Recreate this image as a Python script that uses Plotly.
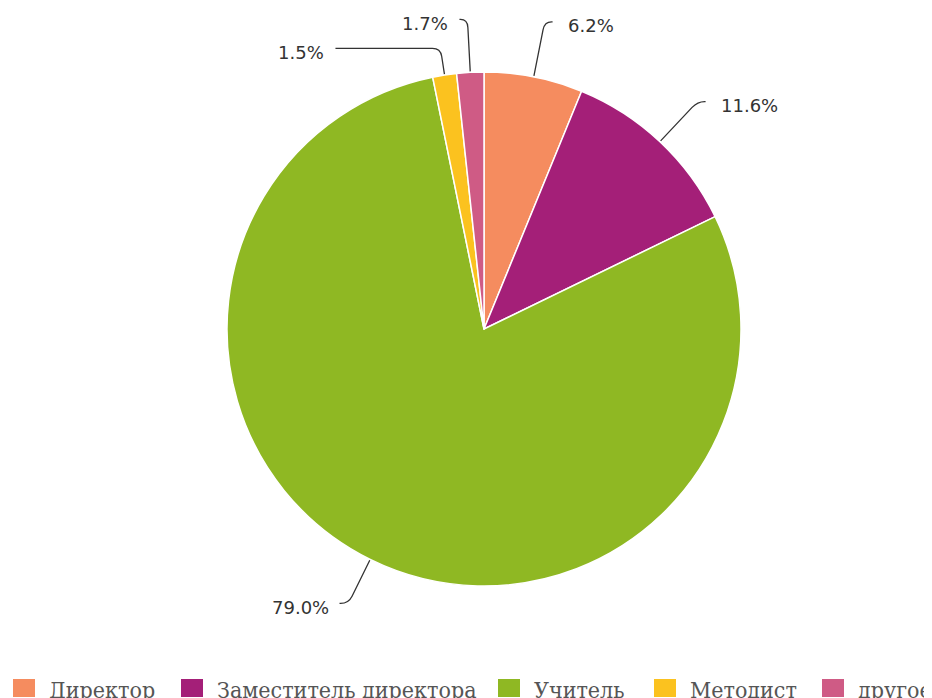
import math
import plotly.graph_objects as go

W, H = 932, 698
PAGE_OFFSET = 8  # default body margin of the page

# ----------------------------------
# Data
# ----------------------------------
labels = ["Директор", "Заместитель директора", "Учитель", "Методист", "другое"]
values = [6.2, 11.6, 79.0, 1.5, 1.7]
colors = ["#F58C5F", "#A41F78", "#8FB823", "#FBC21F", "#CF5B85"]

# pie geometry (screen pixels)
CX, CY, R = 484, 329, 257

# leader line legs per slice: radial length, horizontal length (signed)
radial_leg = [55, 54, 48, 26, 52]
horiz_leg = [8, 8, -9, -105, -8]

LABEL_FONT = dict(family="DejaVu Sans", size=18, color="#333333")
LEGEND_FONT = dict(family="DejaVu Serif Condensed, DejaVu Serif", size=23, color="#555555")


def px(x, y):
    # screen pixel -> paper coordinates
    return (x - PAGE_OFFSET) / W, 1 - (y - PAGE_OFFSET) / H


fig = go.Figure()

cx0, cy0 = px(CX, CY)
ry_p = R / H

fig.add_trace(
    go.Pie(
        labels=labels,
        values=values,
        sort=False,
        direction="clockwise",
        rotation=0,
        marker=dict(colors=colors, line=dict(color="white", width=1.5)),
        textinfo="none",
        hoverinfo="label+percent",
        showlegend=False,
        domain=dict(
            x=[max(0, cx0 - (1 - cx0)), 1],
            y=[cy0 - ry_p, cy0 + ry_p],
        ),
    )
)

# ----------------------------------
# Outside labels with curved leader lines
# ----------------------------------
total = sum(values)
shapes = []
annotations = []
cum = 0.0
for i, v in enumerate(values):
    mid = (cum + v / 2) / total * 2 * math.pi
    cum += v
    dx, dy = math.sin(mid), -math.cos(mid)
    ex, ey = CX + (R + 1) * dx, CY + (R + 1) * dy
    rx, ry = ex + radial_leg[i] * dx, ey + radial_leg[i] * dy
    hx, hy = rx + horiz_leg[i], ry
    sgn = 1 if horiz_leg[i] > 0 else -1
    k = min(8, abs(horiz_leg[i]) - 1)
    p1 = (rx - 8 * dx, ry - 8 * dy)
    p2 = (rx + sgn * k, ry)
    pts = [px(ex, ey), px(*p1), px(rx, ry), px(*p2), px(hx, hy)]
    path = "M {},{} L {},{} Q {},{} {},{} L {},{}".format(
        *[c for p in pts for c in p]
    )
    shapes.append(
        dict(type="path", path=path, xref="paper", yref="paper",
             line=dict(color="#333333", width=1.3))
    )
    gap = 13 if sgn > 0 else 9
    tx, ty = px(hx + sgn * gap, hy + 4)
    pct = v / total * 100
    annotations.append(
        dict(x=tx, y=ty, xref="paper", yref="paper", showarrow=False,
             text=f"{pct:.1f}%", font=LABEL_FONT,
             xanchor="left" if sgn > 0 else "right", yanchor="middle")
    )

# ----------------------------------
# Legend (bottom row)
# ----------------------------------
legend_x = [13, 181, 498, 654, 822]
for i, name in enumerate(labels):
    x0, y0 = px(legend_x[i], 679)
    x1, y1 = px(legend_x[i] + 22, 697)
    shapes.append(
        dict(type="rect", xref="paper", yref="paper", x0=x0, y0=y1, x1=x1, y1=y0,
             fillcolor=colors[i], line=dict(width=0))
    )
    tx, ty = px(legend_x[i] + 34, 690)
    annotations.append(
        dict(x=tx, y=ty, xref="paper", yref="paper", showarrow=False,
             text=name, font=LEGEND_FONT, xanchor="left", yanchor="middle")
    )

fig.update_layout(
    width=W,
    height=H,
    margin=dict(l=0, r=0, t=0, b=0, autoexpand=False),
    paper_bgcolor="white",
    plot_bgcolor="white",
    shapes=shapes,
    annotations=annotations,
)

fig.write_html("out.html")
